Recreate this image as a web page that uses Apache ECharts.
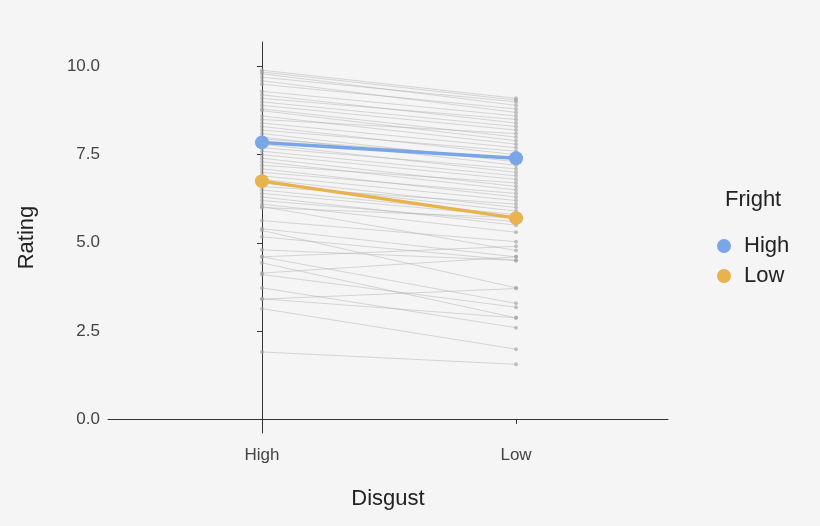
<!DOCTYPE html><html><head><meta charset="utf-8"><script src="https://cdn.jsdelivr.net/npm/echarts@6/dist/echarts.min.js"></script></head><body style="margin:0;background:#f5f5f5"><div id="c" style="width:820px;height:526px"></div><script>
const categories=['High','Low'];
const yTicks=[0,2.5,5,7.5,10];
const subjHigh=[9.9,9.85,9.8,9.7,9.6,9.5,9.3,9.2,9.1,9.0,8.9,8.8,8.75,8.6,8.5,8.4,8.3,8.2,8.1,8.0,7.95,7.8,7.7,7.6,7.5,7.4,7.3,7.2,7.1,7.0,6.9,6.8,6.7,6.6,6.5,6.4,6.3,6.2,6.1,6.03,6.0,5.63,5.4,5.35,5.17,4.8,4.6,4.6,4.43,4.14,4.1,3.72,3.41,3.4,3.13,1.9];
const subjLow=[9.1,9.05,8.9,9.0,8.7,8.8,8.6,8.4,8.5,8.3,8.2,8.0,7.9,7.8,8.1,7.7,7.5,7.6,7.3,7.2,7.4,7.0,7.1,6.9,6.8,6.6,6.5,6.7,6.3,6.4,6.2,6.0,5.9,6.1,5.8,5.75,5.5,5.6,5.3,4.78,5.71,5.03,4.6,3.72,4.5,4.5,3.28,4.9,2.87,4.6,3.17,2.59,2.87,3.7,1.98,1.55];
const meanHigh=[7.85,7.4];
const meanLow=[6.75,5.7];
const pts=a=>a.map((v,i)=>[i,v]);
const series=[];
subjHigh.forEach((v,i)=>series.push({type:'line',data:pts([v,subjLow[i]]),symbol:'circle',symbolSize:4,silent:true,z:1,
 lineStyle:{color:'rgba(170,170,170,0.45)',width:1},itemStyle:{color:'rgba(160,160,160,0.6)'}}));
series.push({name:'High',type:'line',data:pts(meanHigh),symbol:'circle',symbolSize:14,z:5,lineStyle:{color:'#7aa6e8',width:3.5},itemStyle:{color:'#7aa6e8'}});
series.push({name:'Low',type:'line',data:pts(meanLow),symbol:'circle',symbolSize:14,z:5,lineStyle:{color:'#e8b24f',width:3.5},itemStyle:{color:'#e8b24f'}});
const ch=echarts.init(document.getElementById('c'));
const font='Liberation Sans';
ch.setOption({backgroundColor:'#f5f5f5',animation:false,
 grid:{left:108,right:152,top:42,bottom:93},
 legend:{data:['High','Low'],orient:'vertical',left:712,top:230,itemWidth:30,itemHeight:14,itemGap:8,
  textStyle:{fontSize:22,color:'#222',fontFamily:font},icon:'circle'},
 graphic:[{type:'text',left:725,top:189,style:{text:'Fright',fontSize:22,fill:'#222',fontFamily:font}}],
 xAxis:{type:'value',min:-0.606,max:1.598,name:'Disgust',nameLocation:'middle',nameGap:55,
  nameTextStyle:{fontSize:22,color:'#222',fontFamily:font},splitLine:{show:false},axisLine:{lineStyle:{color:'#333'}},
  axisTick:{customValues:[0,1],lineStyle:{color:'#333'}},
  axisLabel:{customValues:[0,1],fontSize:17,color:'#444',margin:14,fontFamily:font,formatter:v=>categories[Math.round(v)]}},
 yAxis:{type:'value',min:-0.4,max:10.7,name:'Rating',nameLocation:'middle',nameGap:70,
  nameTextStyle:{fontSize:22,color:'#222',fontFamily:font},splitLine:{show:false},
  axisLine:{show:true,lineStyle:{color:'#333'}},axisTick:{show:true,customValues:yTicks,lineStyle:{color:'#333'}},
  axisLabel:{customValues:yTicks,fontSize:17,color:'#444',fontFamily:font,formatter:v=>v.toFixed(1)}},
 series});
</script></body></html>
